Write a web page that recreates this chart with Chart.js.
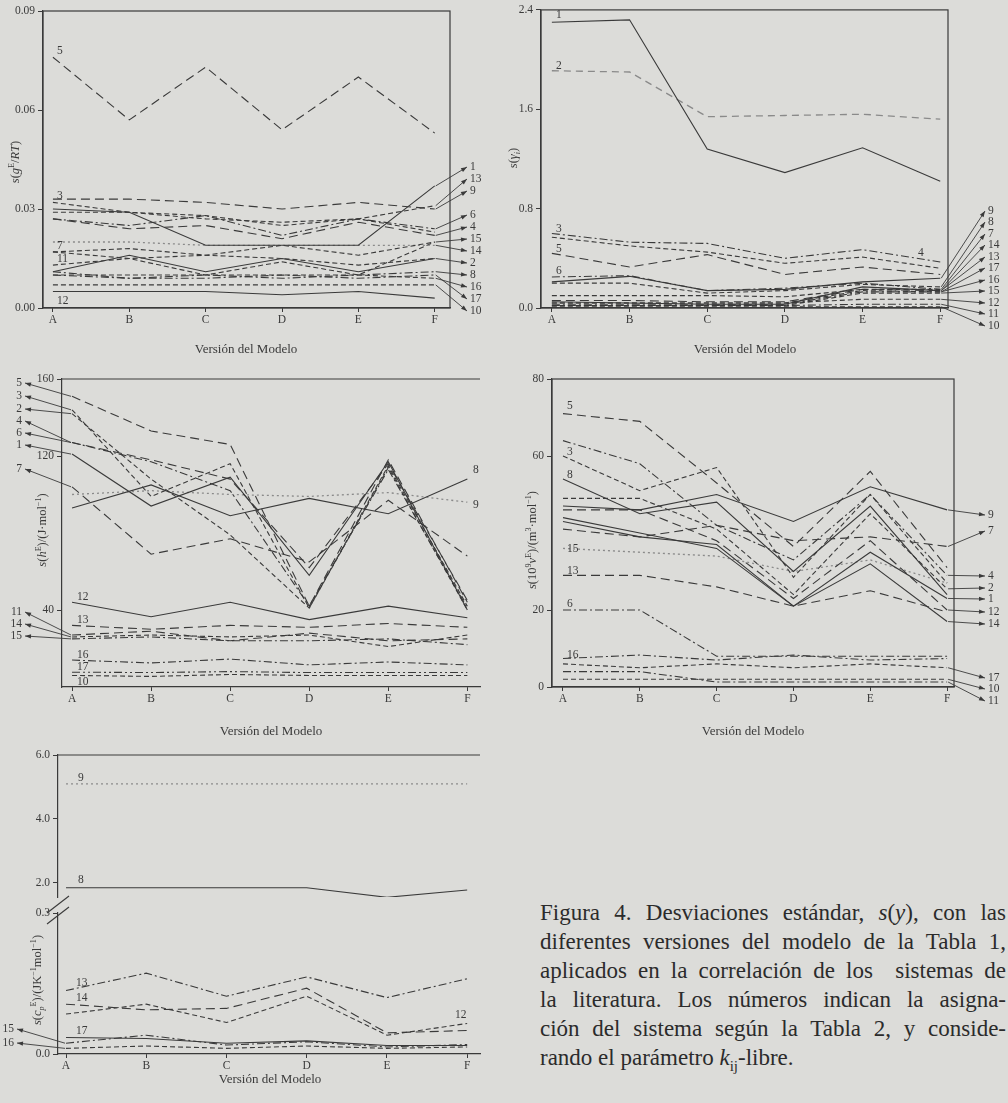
<!DOCTYPE html>
<html><head><meta charset="utf-8">
<script src="https://cdn.jsdelivr.net/npm/chart.js@4.4.1/dist/chart.umd.min.js"></script>
<style>
html,body{margin:0;padding:0;background:#dcdcd9;}
#page{position:relative;width:1008px;height:1103px;overflow:hidden;background:#dcdcd9;}
#page canvas{position:absolute;}
#caption{position:absolute;left:540px;top:898px;width:466px;font-family:'Liberation Serif','Times New Roman',serif;font-size:23px;line-height:29px;color:#2b2b2b;}
#caption div{text-align:justify;text-align-last:justify;}
#caption div.last{text-align:left;text-align-last:left;}
</style></head>
<body><div id="page">
<div id="caption">
<div>Figura 4. Desviaciones estándar, <i>s</i>(<i>y</i>), con las</div>
<div>diferentes versiones del modelo de la Tabla 1,</div>
<div>aplicados en la correlación de los &nbsp;sistemas de</div>
<div>la literatura. Los números indican la asigna-</div>
<div>ción del sistema según la Tabla 2, y conside-</div>
<div class="last">rando el parámetro <i>k</i><sub style="font-size:15px">ij</sub>-libre.</div>
</div>
</div>
<script>
// ---------------- DATA ----------------
const categories = ['A','B','C','D','E','F'];
const systems = [1,2,3,4,5,6,7,8,9,10,11,12,13,14,15,16,17];

// s(gE/RT)
const gE = [
 [0.030,0.029,0.019,0.019,0.019,0.037],
 [0.017,0.015,0.016,0.015,0.013,0.015],
 [0.032,0.029,0.028,0.025,0.027,0.023],
 [0.027,0.024,0.025,0.021,0.026,0.022],
 [0.076,0.057,0.073,0.054,0.070,0.053],
 [0.027,0.025,0.028,0.022,0.027,0.024],
 [0.017,0.018,0.016,0.019,0.016,0.020],
 [0.010,0.009,0.010,0.009,0.010,0.011],
 [0.033,0.033,0.032,0.030,0.032,0.030],
 [0.007,0.007,0.007,0.007,0.007,0.007],
 [0.011,0.016,0.011,0.015,0.011,0.015],
 [0.005,0.005,0.005,0.004,0.005,0.003],
 [0.029,0.029,0.027,0.026,0.027,0.031],
 [0.020,0.020,0.019,0.019,0.019,0.019],
 [0.013,0.015,0.010,0.014,0.010,0.020],
 [0.010,0.010,0.010,0.010,0.010,0.009],
 [0.011,0.009,0.009,0.010,0.009,0.010]
];
// s(gamma_i)
const gammaI = [
 [2.30,2.32,1.28,1.09,1.29,1.02],
 [1.91,1.90,1.54,1.55,1.56,1.52],
 [0.57,0.50,0.45,0.36,0.41,0.32],
 [0.60,0.53,0.52,0.40,0.47,0.37],
 [0.44,0.33,0.43,0.27,0.33,0.27],
 [0.25,0.26,0.14,0.16,0.20,0.15],
 [0.10,0.10,0.10,0.09,0.15,0.15],
 [0.20,0.20,0.12,0.14,0.19,0.17],
 [0.21,0.255,0.14,0.15,0.21,0.24],
 [0.01,0.01,0.01,0.01,0.01,0.01],
 [0.02,0.02,0.02,0.02,0.03,0.03],
 [0.04,0.04,0.04,0.04,0.07,0.07],
 [0.06,0.06,0.05,0.05,0.15,0.14],
 [0.05,0.04,0.03,0.03,0.17,0.14],
 [0.02,0.02,0.02,0.02,0.12,0.12],
 [0.04,0.04,0.04,0.04,0.14,0.13],
 [0.03,0.03,0.03,0.03,0.13,0.13]
];
// s(hE)/(J mol-1)
const hE = [
 [121,94,109,58,117,40],
 [142,108,79,41,114,40],
 [144,99,116,41,115,42],
 [127,117,102,42,113,41],
 [151,133,126,42,118,44],
 [127,118,108,62,116,45],
 [104,69,77,65,97,68],
 [93,105,89,98,90,108],
 [100,102,100,99,101,96],
 [6,5.5,6.5,6,6,6],
 [27,29,24,28,24,25],
 [44,36.5,44,35,42,36],
 [32,30,32,31,33,31],
 [26,27,26,27,21,27],
 [25,26,24,24,25,22],
 [14,12.5,14.5,11.5,13,11.5],
 [7.7,7.5,8,7.5,7.5,7.5]
];
// s(10^9 vE)/(m3 mol-1)
const vE = [
 [43,39,37,21,35,23],
 [49,49,41,24,45,25.5],
 [60,51,57,28.5,50,27],
 [64,58,42,33,50,29],
 [71,69,53,36.5,56,31],
 [20,20,8,8,8,8],
 [41,39,42,38,39,36.5],
 [54,45,48,30,47,24],
 [47,46,50,43,52,46],
 [2,2,2,2,2,2],
 [4,4,1.3,1.3,1.3,1.3],
 [46,46,38,23,38,20],
 [29,29,26,21,25,19.5],
 [44,40,36,21,32,17],
 [36,35,34,30,33,27],
 [7.4,8.3,7,8.3,7,7.4],
 [6,5,6,5,6,5]
];
// s(cpE)/(J K-1 mol-1)
const cpE = [
 null,null,null,null,null,null,null,
 [1.85,1.85,1.85,1.85,1.55,1.78],
 [5.1,5.1,5.1,5.1,5.1,5.1],
 null,null,
 [0.085,0.106,0.067,0.123,0.040,0.065],
 [0.135,0.172,0.123,0.164,0.120,0.160],
 [0.106,0.094,0.097,0.140,0.045,0.050],
 [0.023,0.040,0.019,0.026,0.015,0.020],
 [0.012,0.017,0.012,0.017,0.012,0.015],
 [0.035,0.033,0.023,0.028,0.018,0.018]
];
const ticksGE = [0,0.03,0.06,0.09];
const ticksGamma = [0,0.8,1.6,2.4];
const ticksHE = [40,120,160];
const ticksVE = [0,20,60,80];
const ticksCpHigh = [2,4,6];
const ticksCpLow = [0,0.3];

// ---------------- STYLE ----------------
const SERIF = "'Liberation Serif','Times New Roman',serif";
const INK = '#3a3a3a';
const DASH = {solid:[],dash:[5,3],long:[9,5],dashdot:[8,3,2,3],dashdotdot:[8,3,2,3,2,3],dot:[2,3],faint:[7,5]};
const st1 = ['solid','dash','dash','long','long','dashdot','dash','dashdot','long','dash','solid','solid','dash','dot','dash','dash','dashdot'];
const st2 = ['solid','faint','dash','dashdot','long','dashdot','dash','dash','solid','dash','dashdot','dash','long','solid','dash','dash','dashdot'];
const st3 = ['solid','dash','dash','dashdot','long','long','long','solid','dot','dash','long','solid','long','dash','dashdot','dashdot','dashdotdot'];
const st4 = ['solid','dash','dash','dashdot','long','dashdot','long','solid','solid','dash','dashdot','long','long','solid','dot','dashdot','dash'];
const st5 = [null,null,null,null,null,null,null,'solid','dot',null,null,'dash','dashdot','long','dashdot','dash','solid'];

function datasets(values, styles, only){
  const out=[];
  systems.forEach((s,i)=>{
    if(!values[i]) return;
    if(only && !only.includes(s)) return;
    const light = styles[i]==='dot'||styles[i]==='faint';
    out.push({label:String(s), data:values[i].map((v,j)=>({x:j,y:v})),
      borderDash:DASH[styles[i]], borderColor: light?'#8a8a8a':INK,
      borderWidth: light?1.3:1.1, pointRadius:0, fill:false, tension:0});
  });
  return out;
}

function drawRich(ctx, segs, cx, cy, size){
  ctx.save(); ctx.translate(cx,cy); ctx.rotate(-Math.PI/2);
  const parts = segs.map(s=>{const fs=(s.sup||s.sub)?size*0.65:size; const font=(s.it?'italic ':'')+fs+'px '+SERIF; ctx.font=font; return Object.assign({},s,{font,w:ctx.measureText(s.t).width});});
  const total = parts.reduce((a,p)=>a+p.w,0);
  let x=-total/2; ctx.textAlign='left'; ctx.textBaseline='alphabetic'; ctx.fillStyle=INK;
  for(const p of parts){ctx.font=p.font; const dy=p.sup?-size*0.38:(p.sub?size*0.22:0); ctx.fillText(p.t,x,size*0.33+dy); x+=p.w;}
  ctx.restore();
}
function arrow(ctx,x1,y1,x2,y2){
  ctx.beginPath(); ctx.moveTo(x1,y1); ctx.lineTo(x2,y2); ctx.stroke();
  const a=Math.atan2(y2-y1,x2-x1), L=6, W=2.2;
  ctx.beginPath(); ctx.moveTo(x2,y2);
  ctx.lineTo(x2-L*Math.cos(a)+W*Math.sin(a), y2-L*Math.sin(a)-W*Math.cos(a));
  ctx.lineTo(x2-L*Math.cos(a)-W*Math.sin(a), y2-L*Math.sin(a)+W*Math.cos(a));
  ctx.closePath(); ctx.fill();
}
function makeDecor(d){
  return {id:'decor', afterDraw(chart){
    const ctx=chart.ctx, a=chart.chartArea, ox=d.off[0], oy=d.off[1];
    ctx.save(); ctx.strokeStyle=INK; ctx.fillStyle=INK; ctx.lineWidth=1.2; ctx.setLineDash([]);
    if(d.frame==='box') ctx.strokeRect(a.left,a.top,a.right-a.left,a.bottom-a.top);
    else if(d.frame==='top'){ctx.beginPath();ctx.moveTo(a.left,a.top);ctx.lineTo(a.right,a.top);ctx.stroke();}
    if(d.yTitle) drawRich(ctx,d.yTitle.segs,d.yTitle.x-ox,d.yTitle.y-oy,12.5);
    if(d.xTitle){ctx.font='13px '+SERIF; ctx.textAlign='center'; ctx.textBaseline='middle'; ctx.fillText(d.xTitle.text,d.xTitle.x-ox,d.xTitle.y-oy);}
    if(d.breakMarks){ctx.lineWidth=1.1; for(const [x1,y1,x2,y2] of d.breakMarks){ctx.beginPath();ctx.moveTo(x1-ox,y1-oy);ctx.lineTo(x2-ox,y2-oy);ctx.stroke();}}
    const xs=chart.scales.x, ys=chart.scales.y;
    ctx.font='11.5px '+SERIF; ctx.lineWidth=0.9; ctx.textBaseline='middle';
    for(const lb of (d.labels||[])){
      const vals=d.values[lb.s-1]; const lx=lb.x-ox, ly=lb.y-oy;
      if(lb.k==='F'){const px=xs.getPixelForValue(5), py=ys.getPixelForValue(vals[5]); arrow(ctx,px+1,py,lx-3,ly); ctx.textAlign='left'; ctx.fillText(String(lb.s),lx,ly);}
      else if(lb.k==='A'){const px=xs.getPixelForValue(0), py=ys.getPixelForValue(vals[0]); arrow(ctx,px-1,py,lx+3,ly); ctx.textAlign='right'; ctx.fillText(String(lb.s),lx,ly);}
      else {ctx.textAlign='left'; ctx.fillText(String(lb.s),lx,ly);}
    }
    ctx.restore();
  }};
}

const page=document.getElementById('page');
function panel(p){
  const [cx,cy,cw,ch]=p.box, [L,T,R,B]=p.area;
  const cv=document.createElement('canvas'); cv.width=cw; cv.height=ch;
  cv.style.left=cx+'px'; cv.style.top=cy+'px'; cv.style.width=cw+'px'; cv.style.height=ch+'px';
  page.appendChild(cv);
  const showX = p.showX!==false;
  const tickFont={family:SERIF,size:11.5};
  new Chart(cv.getContext('2d'),{
    type:'line', data:{datasets:p.datasets},
    options:{responsive:false, animation:false, devicePixelRatio:1,
      layout:{padding:{left:0, top:T-cy, right:cx+cw-R, bottom:0}},
      plugins:{legend:{display:false}, tooltip:{enabled:false}},
      scales:{
        x:{type:'linear', min:p.xr[0], max:p.xr[1],
           afterBuildTicks:s=>{s.ticks=categories.map((c,i)=>({value:i}));},
           ticks:{display:showX, callback:v=>categories[v]??'', font:tickFont, color:INK, padding:1, maxRotation:0, autoSkip:false},
           grid:{display:showX, drawOnChartArea:false, drawTicks:true, tickLength:4, color:INK, lineWidth:1},
           border:{display:showX, color:INK, width:1.2},
           afterFit:s=>{s.height=cy+ch-B;}},
        y:{type:'linear', min:p.yr[0], max:p.yr[1],
           afterBuildTicks:s=>{s.ticks=p.yTicks.map(v=>({value:v}));},
           ticks:{callback:p.fmt, font:tickFont, color:INK, padding:3},
           grid:{drawOnChartArea:false, drawTicks:true, tickLength:5, color:INK, lineWidth:1},
           border:{display:true, color:INK, width:1.2},
           afterFit:s=>{s.width=L-cx;}}
      }},
    plugins:[makeDecor(Object.assign({off:[cx,cy]},p.decor))]
  });
}
const R_ = (list,k,x)=>list.map(([s,y])=>({s,k,x,y}));

// Panel 1
panel({box:[0,0,500,365], area:[43,11,450,308], xr:[-0.13,5.2], yr:[0,0.09], yTicks:ticksGE, fmt:v=>v.toFixed(2),
  datasets:datasets(gE,st1),
  decor:{frame:'box', values:gE,
    yTitle:{x:15,y:162,segs:[{t:'s',it:1},{t:'('},{t:'g',it:1},{t:'E',sup:1},{t:'/'},{t:'RT',it:1},{t:')'}]},
    xTitle:{text:'Versión del Modelo',x:246,y:350},
    labels:[...R_([[5,51],[3,196],[7,246],[11,259],[12,301]],'t',57),
            ...R_([[1,167],[13,179],[9,191],[6,215],[4,227],[15,239],[14,251],[2,263],[8,275],[16,287],[17,299],[10,311]],'F',470)]}});

// Panel 2
panel({box:[500,0,508,365], area:[541,9,948,308], xr:[-0.14,5.1], yr:[0,2.4], yTicks:ticksGamma, fmt:v=>v.toFixed(1),
  datasets:datasets(gammaI,st2),
  decor:{frame:'box', values:gammaI,
    yTitle:{x:513,y:158,segs:[{t:'s',it:1},{t:'('},{t:'γ',it:1},{t:'i',it:1,sub:1},{t:')'}]},
    xTitle:{text:'Versión del Modelo',x:745,y:350},
    labels:[...R_([[1,15],[2,66],[3,229],[5,249],[6,271]],'t',556), {s:4,k:'t',x:918,y:253},
            ...R_([[9,211],[8,222],[7,234],[14,245],[13,257],[17,268],[16,280],[15,291],[12,303],[11,314],[10,326]],'F',988)]}});

// Panel 3
panel({box:[0,365,500,380], area:[62,379,480,687], xr:[-0.127,5.16], yr:[0,160], yTicks:ticksHE, fmt:v=>String(v),
  datasets:datasets(hE,st3),
  decor:{frame:'top', values:hE,
    yTitle:{x:42,y:530,segs:[{t:'s',it:1},{t:'('},{t:'h',it:1},{t:'E',sup:1},{t:')/(J·mol'},{t:'−1',sup:1},{t:')'}]},
    xTitle:{text:'Versión del Modelo',x:271,y:732},
    labels:[...R_([[5,383],[3,396],[2,409],[4,421],[6,433],[1,445],[7,469],[11,612],[14,624],[15,636]],'A',22),
            ...R_([[12,597],[13,620],[16,655],[17,667],[10,682]],'t',77),
            ...R_([[8,470],[9,505]],'t',473)]}});

// Panel 4
panel({box:[500,365,508,380], area:[552,379,954,687], xr:[-0.143,5.09], yr:[0,80], yTicks:ticksVE, fmt:v=>String(v),
  datasets:datasets(vE,st4),
  decor:{frame:'box', values:vE,
    yTitle:{x:532,y:540,segs:[{t:'s',it:1},{t:'(10'},{t:'9',sup:1},{t:'v',it:1},{t:'E',sup:1},{t:')/(m'},{t:'3',sup:1},{t:'·mol'},{t:'−1',sup:1},{t:')'}]},
    xTitle:{text:'Versión del Modelo',x:753,y:732},
    labels:[...R_([[5,406],[3,452],[8,475],[15,549],[13,571],[6,604],[16,655]],'t',567),
            ...R_([[9,515],[7,531],[4,576],[2,588],[1,599],[12,612],[14,624],[17,678],[10,689],[11,701]],'F',988)]}});

// Panel 5 upper (2.0 - 6.0)
panel({box:[0,745,500,358], area:[58,755,480,897], xr:[-0.1,5.16], yr:[1.56,6.0], yTicks:ticksCpHigh, fmt:v=>v.toFixed(1), showX:false,
  datasets:datasets(cpE,st5,[8,9]),
  decor:{frame:'top', values:cpE, labels:R_([[9,778],[8,880]],'t',78)}});
// Panel 5 lower (0 - 0.3)
panel({box:[0,745,500,358], area:[58,913,480,1054], xr:[-0.1,5.16], yr:[0,0.3], yTicks:ticksCpLow, fmt:v=>v.toFixed(1),
  datasets:datasets(cpE,st5,[12,13,14,15,16,17]),
  decor:{frame:'none', values:cpE,
    yTitle:{x:37,y:980,segs:[{t:'s',it:1},{t:'('},{t:'c',it:1},{t:'p',it:1,sub:1},{t:'E',sup:1},{t:')/(JK'},{t:'−1',sup:1},{t:'mol'},{t:'−1',sup:1},{t:')'}]},
    xTitle:{text:'Versión del Modelo',x:270,y:1080},
    breakMarks:[[47,913,69,896],[47,924,69,907]],
    labels:[...R_([[13,983],[14,998],[17,1031]],'t',76), {s:12,k:'t',x:455,y:1015},
            ...R_([[15,1029],[16,1043]],'A',14)]}});
</script>
</body></html>
